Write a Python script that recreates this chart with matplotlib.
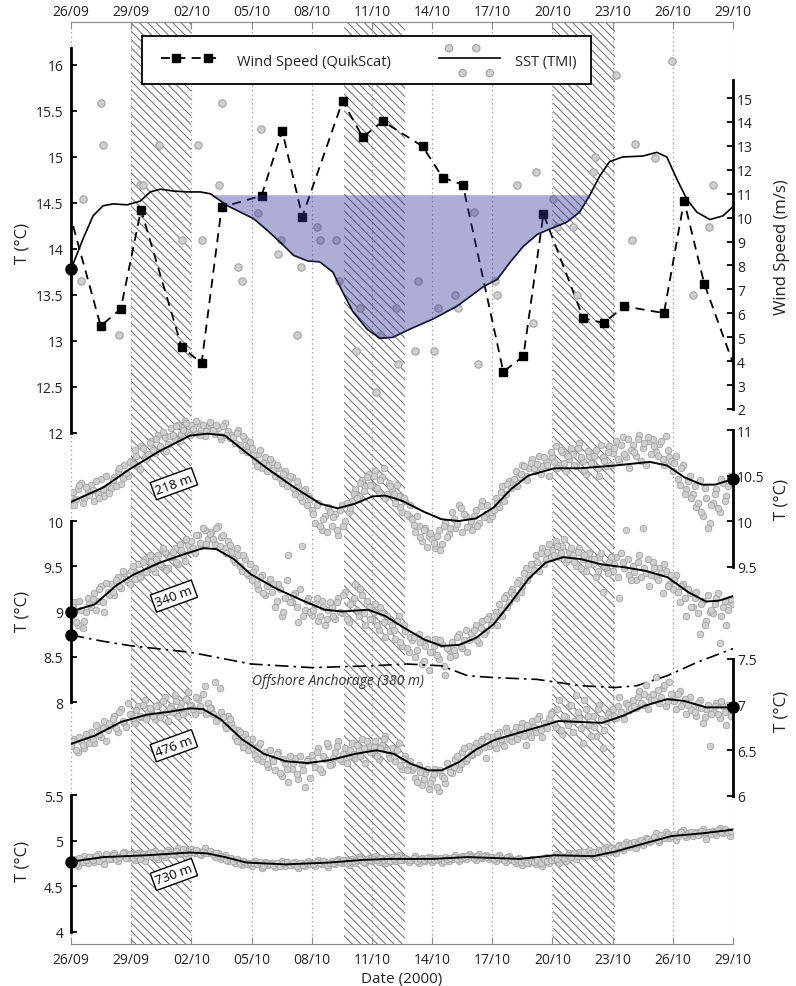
import numpy as np
import pandas as pd
import matplotlib
matplotlib.use('Agg')
import matplotlib.pyplot as plt
from matplotlib.lines import Line2D
from matplotlib.legend_handler import HandlerLine2D, HandlerPathCollection
from matplotlib.ticker import FuncFormatter

plt.rcParams['font.family'] = ['Open Sans', 'DejaVu Sans']
plt.rcParams['hatch.linewidth'] = 0.7

# ---------------- data (x = days since 26/09/2000) ----------------
START = pd.Timestamp('2000-09-26')
N_DAYS = 33
TICK_DAYS = np.arange(0, N_DAYS + 1, 3)
TICK_LABELS = [(START + pd.Timedelta(days=int(d))).strftime('%d/%m') for d in TICK_DAYS]

# shaded (hatched) periods
HATCH_SPANS = [(3.0, 6.0), (13.6, 16.65), (24.05, 27.1)]

# wind speed (QuikScat), m/s
WIND_DAYS = [-0.5, 1.48, 2.48, 3.49, 5.52, 6.51, 7.51, 9.5, 10.53, 11.53, 13.54, 14.54, 15.54,
             17.53, 18.53, 19.53, 21.55, 22.55, 23.55, 25.54, 26.55, 27.58, 29.56, 30.56, 31.57, 33.5]
WIND = [11.5, 5.47, 6.18, 10.33, 4.58, 3.92, 10.43, 10.92, 13.63, 10.04, 14.88, 13.36, 14.03,
        12.98, 11.67, 11.38, 3.56, 4.2, 10.15, 5.79, 5.6, 6.29, 6.01, 10.71, 7.23, 2.75]

# SST (TMI) raw passes
SST_PT_DAYS = [0.48, 0.61, 1.48, 1.61, 2.41, 3.44, 3.6, 4.39, 5.55, 6.35, 6.55, 7.39, 7.51, 8.34,
               8.51, 9.34, 9.47, 10.3, 10.47, 11.25, 11.45, 12.25, 12.41, 13.21, 13.37, 14.21,
               14.41, 15.2, 15.4, 16.2, 16.32, 17.15, 17.31, 18.11, 18.31, 19.14, 19.31, 20.1,
               20.27, 21.14, 21.25, 22.22, 23.02, 23.18, 24.01, 24.21, 25.01, 25.21, 26.01,
               26.12, 27.15, 27.95, 28.12, 29.11, 29.95, 31.02, 31.82, 32.02]
SST_PTS = [13.65, 14.54, 15.59, 15.13, 13.06, 14.69, 14.69, 15.13, 14.10, 15.13, 14.10, 14.69,
           15.59, 13.80, 13.65, 14.39, 15.30, 13.95, 14.10, 13.06, 13.80, 14.24, 14.10, 14.10,
           13.65, 12.89, 13.36, 12.45, 13.07, 13.36, 12.75, 12.89, 13.65, 12.89, 13.36, 13.50,
           13.36, 14.40, 12.75, 13.65, 13.50, 14.69, 13.20, 14.84, 14.54, 14.24, 14.24, 13.50,
           14.84, 15.00, 15.89, 14.10, 15.14, 14.99, 16.04, 13.50, 14.24, 14.69]

# SST smoothed
SST_DAYS = [0.0, 0.6, 1.1, 1.6, 2.1, 2.8, 3.45, 3.95, 4.45, 5.1, 5.8, 6.45, 6.95, 7.8, 8.45, 9.1,
            9.8, 10.4, 11.1, 11.8, 12.4, 13.05, 13.55, 14.05, 14.75, 15.4, 16.05, 16.9, 18.05,
            19.25, 20.55, 21.25, 21.9, 22.55, 23.25, 23.9, 24.7, 25.35, 25.85, 26.35, 26.85,
            27.5, 28.5, 29.2, 29.7, 30.2, 30.7, 31.2, 31.85, 32.5, 33.0]
SST_LINE = [13.78, 14.11, 14.36, 14.47, 14.49, 14.48, 14.52, 14.62, 14.65, 14.63, 14.62, 14.62,
            14.60, 14.47, 14.40, 14.33, 14.20, 14.08, 13.93, 13.87, 13.86, 13.75, 13.53, 13.32,
            13.13, 13.03, 13.04, 13.13, 13.24, 13.38, 13.59, 13.67, 13.86, 14.03, 14.16, 14.22,
            14.29, 14.40, 14.58, 14.79, 14.95, 15.00, 15.01, 15.05, 15.00, 14.76, 14.54, 14.40,
            14.32, 14.36, 14.46]
SST_REF = 14.59
COOL_PERIOD = (5.0, 27.0)

# mooring temperatures: samples every 4 h (set A, on the hour) and set B (2 h later)
T218_PTS = [
    10.28, 10.18, 10.35, 10.42, 10.25, 10.33, 10.40, 10.22, 10.30, 10.46, 10.27, 10.38,
    10.36, 10.48, 10.55, 10.41, 10.62, 10.50, 10.66, 10.78, 10.60, 10.83, 10.70, 10.74,
    10.88, 10.75, 10.95, 10.80, 10.92, 10.85, 11.02, 10.90, 11.06, 10.96, 11.10, 10.98,
    11.05, 10.97, 11.08, 11.00, 10.93, 11.04, 11.07, 10.96, 11.02, 10.90, 11.08, 10.99,
    10.95, 10.86, 11.00, 10.78, 10.90, 10.82, 10.80, 10.66, 10.74, 10.58, 10.70, 10.62,
    10.65, 10.50, 10.58, 10.42, 10.55, 10.45, 10.48, 10.30, 10.40, 10.22, 10.35, 10.28,
    10.12, 9.98, 10.20, 9.90, 10.05, 10.15, 9.95, 10.08, 9.85, 10.18, 10.00, 10.10,
    10.22, 10.35, 10.28, 10.45, 10.38, 10.52, 10.40, 10.55, 10.32, 10.48, 10.25, 10.42,
    10.35, 10.20, 10.28, 10.10, 10.22, 10.05, 10.02, 9.88, 9.95, 9.78, 9.92, 9.84,
    9.80, 9.70, 9.90, 9.75, 9.98, 9.86, 10.10, 9.92, 10.18, 9.88, 10.05, 9.95,
    9.90, 10.12, 9.98, 10.22, 10.08, 10.02, 10.05, 10.25, 10.15, 10.38, 10.30, 10.44,
    10.42, 10.55, 10.48, 10.62, 10.50, 10.58, 10.68, 10.55, 10.72, 10.60, 10.66, 10.50,
    10.70, 10.82, 10.62, 10.76, 10.55, 10.68, 10.74, 10.60, 10.86, 10.66, 10.52, 10.72,
    10.64, 10.78, 10.50, 10.70, 10.60, 10.82, 10.75, 10.88, 10.66, 10.92, 10.70, 10.58,
    10.84, 10.72, 10.94, 10.80, 10.62, 10.88, 10.90, 10.76, 10.85, 10.68, 10.93, 10.70,
    10.55, 10.72, 10.40, 10.62, 10.35, 10.50, 10.30, 10.15, 10.45, 10.05, 10.25, 9.98,
    10.20, 10.35, 10.10, 10.42, 10.28, 10.50, 10.45]
T218_PTS_B = [
    10.32, 10.24, 10.40, 10.20, 10.37, 10.29, 10.34, 10.44, 10.25, 10.35, 10.50, 10.31,
    10.45, 10.39, 10.58, 10.47, 10.53, 10.65, 10.63, 10.72, 10.57, 10.80, 10.68, 10.86,
    10.78, 10.90, 10.83, 10.98, 10.77, 10.93, 10.94, 11.04, 10.88, 11.00, 11.08, 10.95,
    11.01, 11.10, 10.95, 11.06, 10.99, 11.09, 11.00, 11.05, 10.93, 11.04, 10.95, 10.91,
    10.92, 10.97, 10.84, 10.93, 10.76, 10.87, 10.73, 10.60, 10.78, 10.64, 10.55, 10.68,
    10.56, 10.62, 10.47, 10.52, 10.38, 10.49, 10.36, 10.44, 10.26, 10.33, 10.18, 10.24,
    10.08, 10.18, 9.94, 10.02, 9.88, 10.10, 10.04, 9.90, 10.12, 9.95, 10.20, 10.14,
    10.30, 10.25, 10.42, 10.33, 10.48, 10.40, 10.50, 10.36, 10.45, 10.58, 10.30, 10.38,
    10.30, 10.40, 10.15, 10.25, 10.08, 10.18, 9.96, 10.06, 9.82, 9.90, 9.72, 9.87,
    9.76, 9.84, 9.68, 9.94, 9.82, 9.92, 10.02, 9.97, 10.14, 10.08, 9.93, 10.00,
    10.06, 9.95, 10.16, 10.04, 10.18, 10.10, 10.12, 10.20, 10.32, 10.22, 10.41, 10.36,
    10.46, 10.38, 10.52, 10.60, 10.45, 10.64, 10.58, 10.63, 10.52, 10.70, 10.62, 10.76,
    10.65, 10.58, 10.78, 10.64, 10.72, 10.80, 10.62, 10.80, 10.70, 10.56, 10.77, 10.64,
    10.72, 10.58, 10.84, 10.66, 10.76, 10.62, 10.80, 10.68, 10.84, 10.74, 10.90, 10.78,
    10.76, 10.90, 10.66, 10.86, 10.92, 10.74, 10.82, 10.72, 10.88, 10.62, 10.78, 10.66,
    10.64, 10.46, 10.58, 10.30, 10.44, 10.25, 10.38, 10.20, 10.10, 10.36, 9.92, 10.18,
    10.30, 10.14, 10.46, 10.22, 10.38, 10.44]
T218_DAYS = [0.0, 1.62, 2.92, 4.43, 5.94, 6.81, 7.67, 8.75, 9.83, 11.13, 12.43, 13.29, 14.15,
             15.02, 15.67, 16.53, 17.61, 18.47, 19.34, 20.20, 21.07, 21.93, 22.80, 24.10, 25.39,
             27.12, 28.85, 29.72, 30.58, 31.45, 32.10, 33.0]
T218_LINE = [10.21, 10.37, 10.57, 10.77, 10.94, 10.96, 10.94, 10.75, 10.57, 10.37, 10.19, 10.14,
             10.19, 10.27, 10.28, 10.22, 10.10, 10.02, 10.00, 10.03, 10.15, 10.35, 10.50, 10.58,
             10.58, 10.61, 10.65, 10.61, 10.48, 10.40, 10.40, 10.46]

T340_PTS = [
    8.95, 9.10, 8.85, 9.02, 8.90, 9.15, 9.05, 9.20, 9.12, 9.28, 9.00, 9.22,
    9.30, 9.18, 9.38, 9.26, 9.42, 9.33, 9.45, 9.36, 9.52, 9.40, 9.58, 9.47,
    9.55, 9.44, 9.62, 9.50, 9.66, 9.48, 9.60, 9.70, 9.52, 9.68, 9.56, 9.74,
    9.78, 9.65, 9.85, 9.72, 9.90, 9.80, 9.88, 9.75, 9.94, 9.82, 9.70, 9.78,
    9.66, 9.55, 9.62, 9.45, 9.58, 9.40, 9.35, 9.48, 9.25, 9.40, 9.18, 9.32,
    9.22, 9.05, 9.30, 8.95, 9.15, 9.62, 9.10, 9.20, 8.88, 9.72, 9.02, 9.15,
    8.96, 9.08, 8.90, 9.12, 8.85, 9.02, 9.05, 8.92, 9.15, 8.98, 9.22, 8.88,
    9.10, 9.30, 8.95, 9.18, 8.85, 9.05, 8.92, 9.08, 8.80, 8.98, 8.72, 8.90,
    8.85, 8.70, 8.95, 8.62, 8.78, 8.55, 8.68, 8.50, 8.75, 8.42, 8.62, 8.35,
    8.55, 8.70, 8.48, 8.64, 8.30, 8.58, 8.66, 8.52, 8.75, 8.60, 8.80, 8.68,
    8.72, 8.85, 8.65, 8.90, 8.78, 8.95, 8.88, 9.00, 9.08, 8.95, 9.18, 9.10,
    9.25, 9.15, 9.35, 9.28, 9.48, 9.40, 9.52, 9.62, 9.45, 9.70, 9.58, 9.75,
    9.68, 9.78, 9.60, 9.72, 9.55, 9.66, 9.62, 9.50, 9.70, 9.58, 9.45, 9.65,
    9.52, 9.38, 9.60, 9.22, 9.48, 9.55, 9.45, 9.60, 9.15, 9.55, 9.90, 9.40,
    9.50, 9.35, 9.62, 9.92, 9.42, 9.28, 9.55, 9.38, 9.48, 9.20, 9.45, 9.30,
    9.25, 9.40, 9.10, 9.30, 8.95, 9.20, 9.05, 9.22, 8.75, 9.12, 8.90, 9.00,
    8.98, 9.15, 8.65, 9.05, 8.85, 9.10, 9.08]
T340_PTS_B = [
    9.05, 8.88, 9.12, 8.82, 9.00, 9.08, 9.14, 9.02, 9.25, 9.10, 9.32, 9.18,
    9.22, 9.35, 9.28, 9.45, 9.36, 9.30, 9.50, 9.42, 9.38, 9.55, 9.44, 9.62,
    9.48, 9.58, 9.52, 9.70, 9.46, 9.60, 9.66, 9.55, 9.75, 9.62, 9.80, 9.68,
    9.70, 9.84, 9.76, 9.92, 9.75, 9.86, 9.80, 9.92, 9.72, 9.85, 9.65, 9.74,
    9.58, 9.70, 9.50, 9.62, 9.42, 9.52, 9.44, 9.30, 9.38, 9.20, 9.28, 9.36,
    9.30, 9.12, 9.25, 9.00, 9.35, 9.10, 9.18, 9.05, 9.25, 8.95, 9.12, 9.00,
    9.02, 9.15, 8.95, 9.05, 8.92, 9.10, 8.95, 9.10, 9.00, 9.18, 8.92, 9.08,
    9.15, 9.02, 9.25, 8.98, 9.12, 8.92, 9.00, 8.85, 9.05, 8.88, 8.95, 8.78,
    8.80, 8.90, 8.66, 8.85, 8.60, 8.72, 8.72, 8.58, 8.66, 8.45, 8.70, 8.55,
    8.62, 8.52, 8.68, 8.40, 8.60, 8.50, 8.58, 8.72, 8.62, 8.68, 8.55, 8.76,
    8.80, 8.68, 8.82, 8.75, 8.92, 8.85, 8.95, 8.85, 9.02, 9.15, 9.05, 9.22,
    9.18, 9.32, 9.22, 9.42, 9.35, 9.52, 9.46, 9.55, 9.65, 9.52, 9.66, 9.60,
    9.62, 9.72, 9.65, 9.80, 9.58, 9.70, 9.55, 9.66, 9.48, 9.62, 9.52, 9.58,
    9.58, 9.45, 9.65, 9.50, 9.42, 9.60, 9.52, 9.38, 9.65, 9.48, 9.58, 9.35,
    9.44, 9.55, 9.38, 9.48, 9.58, 9.40, 9.48, 9.35, 9.42, 9.52, 9.28, 9.40,
    9.35, 9.22, 9.28, 9.15, 9.25, 9.05, 9.15, 8.98, 9.08, 8.85, 9.18, 9.02,
    9.08, 9.20, 8.95, 9.12, 9.02, 9.14]
T340_DAYS = [0.0, 1.19, 2.27, 3.14, 4.43, 5.73, 6.59, 7.24, 8.11, 8.97, 10.26, 11.56, 12.64,
             13.50, 14.81, 15.67, 16.53, 17.61, 18.47, 19.34, 20.20, 21.07, 21.93, 22.80, 23.66,
             24.53, 25.39, 26.47, 27.55, 28.63, 29.72, 30.80, 31.66, 32.31, 33.0]
T340_LINE = [9.00, 9.08, 9.29, 9.41, 9.54, 9.64, 9.70, 9.69, 9.58, 9.41, 9.25, 9.12, 9.02, 9.00,
             9.02, 8.95, 8.83, 8.69, 8.62, 8.63, 8.71, 8.86, 9.10, 9.36, 9.54, 9.60, 9.58, 9.52,
             9.49, 9.45, 9.38, 9.21, 9.11, 9.12, 9.17]

# offshore anchorage (380 m), smoothed
OFF_DAYS = [0.0, 1.62, 3.03, 5.94, 8.97, 11.99, 15.02, 16.75, 18.47, 19.77, 21.07, 23.23, 25.39,
            27.12, 28.20, 29.72, 31.23, 33.0]
OFF_LINE = [8.74, 8.67, 8.62, 8.55, 8.42, 8.38, 8.40, 8.42, 8.40, 8.29, 8.27, 8.25, 8.18, 8.16,
            8.18, 8.29, 8.44, 8.59]

T476_PTS = [
    6.55, 6.62, 6.48, 6.60, 6.52, 6.66, 6.70, 6.58, 6.75, 6.65, 6.82, 6.72,
    6.78, 6.88, 6.70, 6.95, 6.80, 7.02, 6.90, 6.80, 6.98, 6.86, 7.05, 6.92,
    6.95, 6.84, 7.00, 6.90, 7.08, 6.82, 6.98, 7.10, 6.88, 7.02, 6.92, 7.14,
    7.00, 6.90, 7.06, 6.94, 7.20, 7.02, 6.96, 7.25, 6.85, 6.92, 6.78, 6.88,
    6.80, 6.65, 6.72, 6.58, 6.68, 6.50, 6.62, 6.45, 6.55, 6.38, 6.48, 6.32,
    6.42, 6.28, 6.48, 6.22, 6.36, 6.15, 6.30, 6.42, 6.18, 6.35, 6.10, 6.40,
    6.45, 6.32, 6.52, 6.26, 6.40, 6.55, 6.35, 6.48, 6.60, 6.38, 6.52, 6.44,
    6.58, 6.42, 6.50, 6.62, 6.36, 6.55, 6.48, 6.60, 6.40, 6.56, 6.66, 6.45,
    6.52, 6.38, 6.58, 6.30, 6.44, 6.35, 6.28, 6.20, 6.34, 6.12, 6.25, 6.08,
    6.18, 6.30, 6.05, 6.22, 6.14, 6.32, 6.25, 6.40, 6.30, 6.48, 6.38, 6.55,
    6.45, 6.58, 6.50, 6.62, 6.42, 6.55, 6.65, 6.52, 6.70, 6.58, 6.74, 6.62,
    6.60, 6.75, 6.68, 6.80, 6.56, 6.72, 6.82, 6.70, 6.88, 6.65, 6.78, 6.85,
    6.92, 6.75, 7.05, 6.68, 6.86, 6.98, 6.70, 7.10, 6.85, 6.58, 6.95, 6.78,
    6.88, 6.66, 7.00, 6.52, 6.82, 6.92, 6.95, 6.85, 7.08, 6.90, 7.02, 6.94,
    7.05, 6.96, 7.15, 7.00, 7.22, 7.08, 7.12, 7.30, 7.02, 7.18, 6.98, 7.25,
    7.10, 6.95, 7.15, 7.02, 6.90, 7.08, 6.98, 6.88, 7.05, 6.80, 6.95, 6.55,
    6.92, 7.02, 6.85, 6.98, 6.78, 6.95, 6.96]
T476_PTS_B = [
    6.60, 6.50, 6.64, 6.56, 6.68, 6.58, 6.62, 6.78, 6.68, 6.74, 6.60, 6.80,
    6.84, 6.74, 6.92, 6.82, 6.76, 6.90, 6.85, 6.94, 6.88, 7.00, 6.84, 6.96,
    6.88, 6.98, 6.86, 7.04, 6.92, 6.96, 6.92, 7.04, 6.96, 6.90, 7.06, 6.98,
    6.95, 7.08, 6.98, 7.12, 6.90, 6.96, 6.90, 6.82, 7.18, 6.86, 6.74, 6.84,
    6.74, 6.60, 6.70, 6.54, 6.62, 6.56, 6.52, 6.40, 6.58, 6.44, 6.35, 6.50,
    6.38, 6.46, 6.25, 6.40, 6.30, 6.44, 6.36, 6.24, 6.44, 6.28, 6.38, 6.20,
    6.38, 6.48, 6.30, 6.44, 6.58, 6.34, 6.42, 6.55, 6.40, 6.46, 6.36, 6.50,
    6.46, 6.56, 6.44, 6.52, 6.60, 6.48, 6.54, 6.44, 6.52, 6.62, 6.50, 6.42,
    6.44, 6.50, 6.34, 6.40, 6.28, 6.38, 6.32, 6.15, 6.26, 6.18, 6.30, 6.14,
    6.24, 6.10, 6.28, 6.20, 6.36, 6.26, 6.32, 6.44, 6.35, 6.52, 6.42, 6.46,
    6.52, 6.48, 6.60, 6.54, 6.66, 6.58, 6.58, 6.68, 6.62, 6.55, 6.70, 6.66,
    6.70, 6.62, 6.74, 6.66, 6.78, 6.64, 6.76, 6.84, 6.72, 6.80, 6.74, 6.90,
    6.80, 6.95, 6.72, 6.88, 6.78, 7.00, 6.82, 6.92, 6.74, 7.05, 6.88, 6.66,
    6.76, 6.95, 6.84, 6.72, 6.90, 6.86, 6.88, 6.98, 6.92, 6.84, 7.00, 6.96,
    6.98, 7.08, 7.02, 7.12, 6.95, 7.05, 7.05, 7.16, 7.08, 7.22, 7.04, 7.12,
    7.04, 7.12, 6.98, 7.06, 7.00, 6.94, 6.92, 7.02, 6.96, 6.86, 7.00, 6.90,
    6.98, 6.90, 7.04, 6.92, 7.00, 6.88]
T476_DAYS = [0.0, 1.19, 2.49, 3.78, 4.86, 5.94, 6.59, 7.46, 8.53, 9.62, 10.70, 11.78, 12.86,
             14.16, 15.23, 16.10, 16.96, 17.83, 18.47, 19.34, 20.20, 21.07, 22.15, 23.23, 24.31,
             25.39, 26.47, 27.55, 28.63, 29.72, 30.58, 31.66, 33.0]
T476_LINE = [6.57, 6.66, 6.81, 6.89, 6.92, 6.96, 6.95, 6.84, 6.62, 6.46, 6.38, 6.36, 6.39, 6.46,
             6.50, 6.46, 6.35, 6.28, 6.28, 6.37, 6.51, 6.61, 6.68, 6.75, 6.82, 6.81, 6.80, 6.88,
             6.99, 7.06, 7.04, 6.97, 6.97]

T730_PTS = [
    4.75, 4.80, 4.72, 4.78, 4.83, 4.76, 4.82, 4.77, 4.85, 4.79, 4.74, 4.84,
    4.80, 4.86, 4.78, 4.83, 4.88, 4.81, 4.85, 4.79, 4.87, 4.82, 4.78, 4.86,
    4.83, 4.89, 4.80, 4.86, 4.82, 4.90, 4.88, 4.84, 4.92, 4.85, 4.90, 4.83,
    4.91, 4.86, 4.89, 4.84, 4.92, 4.87, 4.88, 4.82, 4.86, 4.80, 4.84, 4.78,
    4.81, 4.76, 4.79, 4.73, 4.77, 4.74, 4.72, 4.78, 4.74, 4.70, 4.77, 4.73,
    4.76, 4.71, 4.74, 4.78, 4.72, 4.75, 4.73, 4.77, 4.70, 4.75, 4.72, 4.78,
    4.76, 4.72, 4.79, 4.74, 4.77, 4.71, 4.78, 4.74, 4.80, 4.75, 4.79, 4.73,
    4.80, 4.76, 4.82, 4.78, 4.75, 4.81, 4.78, 4.83, 4.77, 4.81, 4.76, 4.82,
    4.82, 4.78, 4.84, 4.79, 4.81, 4.77, 4.79, 4.83, 4.76, 4.81, 4.78, 4.82,
    4.77, 4.81, 4.79, 4.76, 4.82, 4.78, 4.80, 4.84, 4.78, 4.83, 4.80, 4.85,
    4.83, 4.79, 4.85, 4.81, 4.84, 4.80, 4.82, 4.78, 4.84, 4.80, 4.77, 4.83,
    4.79, 4.75, 4.81, 4.73, 4.78, 4.76, 4.80, 4.74, 4.78, 4.72, 4.82, 4.76,
    4.79, 4.85, 4.75, 4.82, 4.78, 4.86, 4.84, 4.80, 4.88, 4.83, 4.86, 4.90,
    4.85, 4.82, 4.90, 4.87, 4.93, 4.88, 4.92, 4.86, 4.95, 4.90, 4.98, 4.93,
    4.97, 4.92, 5.00, 4.95, 5.03, 4.98, 5.02, 5.08, 4.99, 5.05, 5.10, 5.03,
    5.06, 5.01, 5.09, 5.12, 5.04, 5.08, 5.05, 5.10, 5.07, 5.13, 5.02, 5.09,
    5.11, 5.06, 5.14, 5.08, 5.12, 5.05, 5.11]
T730_PTS_B = [
    4.78, 4.74, 4.81, 4.77, 4.79, 4.82, 4.79, 4.83, 4.78, 4.81, 4.85, 4.80,
    4.84, 4.80, 4.82, 4.86, 4.81, 4.85, 4.81, 4.84, 4.80, 4.85, 4.83, 4.88,
    4.86, 4.82, 4.87, 4.84, 4.88, 4.85, 4.85, 4.89, 4.86, 4.91, 4.87, 4.88,
    4.88, 4.90, 4.85, 4.88, 4.86, 4.89, 4.85, 4.87, 4.83, 4.82, 4.79, 4.81,
    4.78, 4.80, 4.75, 4.78, 4.74, 4.76, 4.75, 4.74, 4.77, 4.72, 4.76, 4.74,
    4.73, 4.76, 4.72, 4.75, 4.77, 4.73, 4.75, 4.72, 4.76, 4.73, 4.76, 4.74,
    4.74, 4.77, 4.75, 4.78, 4.73, 4.76, 4.76, 4.78, 4.77, 4.79, 4.76, 4.78,
    4.78, 4.79, 4.80, 4.77, 4.80, 4.79, 4.80, 4.79, 4.81, 4.79, 4.80, 4.78,
    4.80, 4.82, 4.79, 4.81, 4.80, 4.79, 4.81, 4.78, 4.80, 4.79, 4.81, 4.80,
    4.79, 4.80, 4.81, 4.78, 4.80, 4.81, 4.82, 4.80, 4.81, 4.82, 4.83, 4.82,
    4.81, 4.83, 4.82, 4.83, 4.82, 4.82, 4.80, 4.82, 4.81, 4.79, 4.82, 4.80,
    4.78, 4.80, 4.77, 4.79, 4.76, 4.78, 4.77, 4.79, 4.75, 4.80, 4.78, 4.79,
    4.82, 4.80, 4.83, 4.81, 4.84, 4.82, 4.86, 4.83, 4.85, 4.88, 4.84, 4.87,
    4.88, 4.86, 4.89, 4.91, 4.90, 4.92, 4.90, 4.94, 4.92, 4.96, 4.95, 4.97,
    4.99, 4.96, 5.01, 4.98, 5.02, 5.00, 5.04, 5.01, 5.06, 5.03, 5.07, 5.05,
    5.07, 5.05, 5.10, 5.06, 5.08, 5.10, 5.08, 5.06, 5.11, 5.09, 5.10, 5.07,
    5.09, 5.12, 5.10, 5.13, 5.09, 5.11]
T730_DAYS = [0.0, 1.62, 3.78, 5.94, 6.81, 7.67, 8.75, 10.70, 12.86, 14.59, 15.88, 18.04, 19.77,
             22.37, 24.10, 26.04, 27.12, 28.42, 29.93, 31.45, 33.0]
T730_LINE = [4.77, 4.82, 4.84, 4.87, 4.86, 4.82, 4.76, 4.74, 4.76, 4.79, 4.80, 4.80, 4.82, 4.80,
             4.84, 4.83, 4.88, 4.96, 5.05, 5.08, 5.12]

SAMPLES_PER_DAY = 6

# ---------------- styles ----------------
PT_FACE = '#cfcfcf'
PT_EDGE = '#a2a2a2'
FRAME = '#8c8c8c'
TXT = '#222222'
WIND_DASH = (0, (5, 3.5))

fig = plt.figure(figsize=(7.96, 9.87), dpi=100)
RECT = [71 / 796, 42 / 987, 662 / 796, 922 / 987]

# ---------------- base axis: dates, grid, hatched periods ----------------
ax = fig.add_axes(RECT)
ax.set_xlim(0, N_DAYS)
ax.set_ylim(0, 1)
ax.set_yticks([])
for s in ['left', 'right']:
    ax.spines[s].set_visible(False)
for s in ['top', 'bottom']:
    ax.spines[s].set_color(FRAME)
ax.set_xticks(TICK_DAYS)
ax.set_xticklabels(TICK_LABELS)
ax.tick_params(axis='x', direction='in', length=5, color=FRAME, labelsize=10,
               labelcolor=TXT, pad=6)
top = ax.secondary_xaxis('top')
top.set_xticks(TICK_DAYS, TICK_LABELS)
top.tick_params(direction='in', length=5, color=FRAME, labelsize=10, labelcolor=TXT, pad=2)
top.spines['top'].set_color(FRAME)
ax.grid(axis='x', ls=(0, (1, 3)), color='#8a8a8a', lw=0.8)
for a, b in HATCH_SPANS:
    ax.axvspan(a, b, facecolor='none', edgecolor='#6e6e6e', hatch='\\\\\\\\', lw=0)
ax.set_xlabel('Date (2000)', fontsize=11, labelpad=3, color=TXT)


def fmt(v, p):
    return f'{v:g}'


def make_axis(side, ylim, bounds, ticks):
    a = fig.add_axes(RECT, sharex=ax)
    a.patch.set_visible(False)
    a.set_ylim(*ylim)
    for s in ['top', 'bottom', 'left', 'right']:
        a.spines[s].set_visible(s == side)
    a.spines[side].set_bounds(*bounds)
    a.spines[side].set_linewidth(2)
    a.tick_params(axis='x', which='both', bottom=False, top=False,
                  labelbottom=False, labeltop=False)
    if side == 'right':
        a.yaxis.tick_right()
    else:
        a.yaxis.tick_left()
    a.set_yticks(ticks)
    a.yaxis.set_major_formatter(FuncFormatter(fmt))
    a.tick_params(axis='y', direction='in', length=4, width=1.3, labelsize=10,
                  labelcolor=TXT, pad=5.5 if side == 'left' else 3)
    return a


def ylab(text, side, ypx):
    x = -0.074 if side == 'left' else 1.074
    ax.text(x, (945 - ypx) / 922, text, transform=ax.transAxes, rotation=90,
            ha='center', va='center', fontsize=12, color=TXT)


def cloud(a, pts_a, pts_b):
    for pts, shift in ((pts_a, 0.0), (pts_b, 0.5)):
        a.scatter((np.arange(len(pts)) + shift) / SAMPLES_PER_DAY, pts, s=22,
                  facecolor=PT_FACE, edgecolor=PT_EDGE, lw=0.6, zorder=1)


def end_dot(a, x, y):
    a.plot(x, y, 'o', color='black', ms=8, clip_on=False, zorder=6)


def depth_box(a, x, y, text):
    a.text(x, y, text, rotation=20, ha='center', va='center', fontsize=9.5, zorder=7,
           bbox=dict(boxstyle='square,pad=0.2', fc='white', ec='black', lw=1.0))


# ---------------- wind speed (right) ----------------
ax_w = make_axis('right', (-20.37, 18.18), (2, 15.75), np.arange(2, 16, 1))
ax_w.plot(WIND_DAYS, WIND, color='black', ls=WIND_DASH, lw=1.3, marker='s', ms=5.5, zorder=3)
ylab('Wind Speed (m/s)', 'right', 247)

# ---------------- SST (left) ----------------
ax_s = make_axis('left', (6.446, 16.467), (12, 16.18), np.arange(12, 16.01, 0.5))
sst_sc = ax_s.scatter(SST_PT_DAYS, SST_PTS, s=28, facecolor=PT_FACE, edgecolor=PT_EDGE,
                      lw=0.8, zorder=2)
ax_s.plot(SST_DAYS, SST_LINE, color='black', lw=1.2, zorder=3)
sst_x = np.array(SST_DAYS)
sst_y = np.array(SST_LINE)
cool = (sst_y < SST_REF) & (sst_x > COOL_PERIOD[0]) & (sst_x < COOL_PERIOD[1])
ax_s.fill_between(sst_x, sst_y, SST_REF, where=cool, interpolate=True,
                  color=(0.2, 0.2, 0.6), alpha=0.4, lw=0, zorder=4)
end_dot(ax_s, SST_DAYS[0], SST_LINE[0])
ylab('T (°C)', 'left', 243)

# ---------------- 218 m (right) ----------------
ax218 = make_axis('right', (5.352, 15.484), (9.5, 11), [9.5, 10, 10.5, 11])
cloud(ax218, T218_PTS, T218_PTS_B)
ax218.plot(T218_DAYS, T218_LINE, color='black', lw=1.4, zorder=3)
end_dot(ax218, T218_DAYS[-1], T218_LINE[-1])
depth_box(ax218, 5.13, 10.41, '218 m')
ylab('T (°C)', 'right', 500)

# ---------------- 340 m + offshore anchorage (left) ----------------
ax340 = make_axis('left', (5.326, 15.514), (8, 10), [8, 8.5, 9, 9.5, 10])
cloud(ax340, T340_PTS, T340_PTS_B)
ax340.plot(T340_DAYS, T340_LINE, color='black', lw=1.4, zorder=3)
ax340.plot(OFF_DAYS, OFF_LINE, color='black', lw=1.2, ls=(0, (8, 3, 1.5, 3)), zorder=3)
end_dot(ax340, T340_DAYS[0], T340_LINE[0])
end_dot(ax340, OFF_DAYS[0], OFF_LINE[0])
depth_box(ax340, 5.13, 9.17, '340 m')
ax340.text(13.3, 8.24, 'Offshore Anchorage (380 m)', style='italic', ha='center',
           va='center', fontsize=10, color='#333333', zorder=7)
ylab('T (°C)', 'left', 612)

# ---------------- 476 m (right) ----------------
ax476 = make_axis('right', (4.378, 14.477), (6, 7.5), [6, 6.5, 7, 7.5])
cloud(ax476, T476_PTS, T476_PTS_B)
ax476.plot(T476_DAYS, T476_LINE, color='black', lw=1.4, zorder=3)
end_dot(ax476, T476_DAYS[-1], T476_LINE[-1])
depth_box(ax476, 5.13, 6.55, '476 m')
ylab('T (°C)', 'right', 712)

# ---------------- 730 m (left) ----------------
ax730 = make_axis('left', (3.868, 13.967), (4, 5.5), [4, 4.5, 5, 5.5])
cloud(ax730, T730_PTS, T730_PTS_B)
ax730.plot(T730_DAYS, T730_LINE, color='black', lw=1.4, zorder=3)
end_dot(ax730, T730_DAYS[0], T730_LINE[0])
depth_box(ax730, 5.13, 4.63, '730 m')
ylab('T (°C)', 'left', 862)

# ---------------- legend ----------------
wind_line = Line2D([], [], color='black', ls=WIND_DASH, lw=1.3)
wind_marks = Line2D([], [], color='black', ls='none', marker='s', ms=5.5)
sst_line_h = Line2D([], [], color='black', lw=1.2)
leg = ax730.legend([(wind_line, wind_marks), (sst_line_h, sst_sc)],
                   ['Wind Speed (QuikScat)', 'SST (TMI)'],
                   handler_map={wind_marks: HandlerLine2D(numpoints=2, marker_pad=1.3),
                                sst_sc: HandlerPathCollection(numpoints=4, marker_pad=1.0,
                                                              yoffsets=[0.88, -0.45, 0.88, -0.45])},
                   ncol=2, loc='upper left', bbox_to_anchor=(142 / 796, 1 - 37 / 987),
                   bbox_transform=fig.transFigure, borderaxespad=0, handlelength=4.8,
                   handleheight=1.6, columnspacing=3.0, handletextpad=0.7, borderpad=1.0,
                   fancybox=False, framealpha=1, edgecolor='black', fontsize=10.5, numpoints=2)
leg.get_frame().set_linewidth(1.3)
for t in leg.get_texts():
    t.set_color(TXT)

fig.savefig('out.png', dpi=100)
